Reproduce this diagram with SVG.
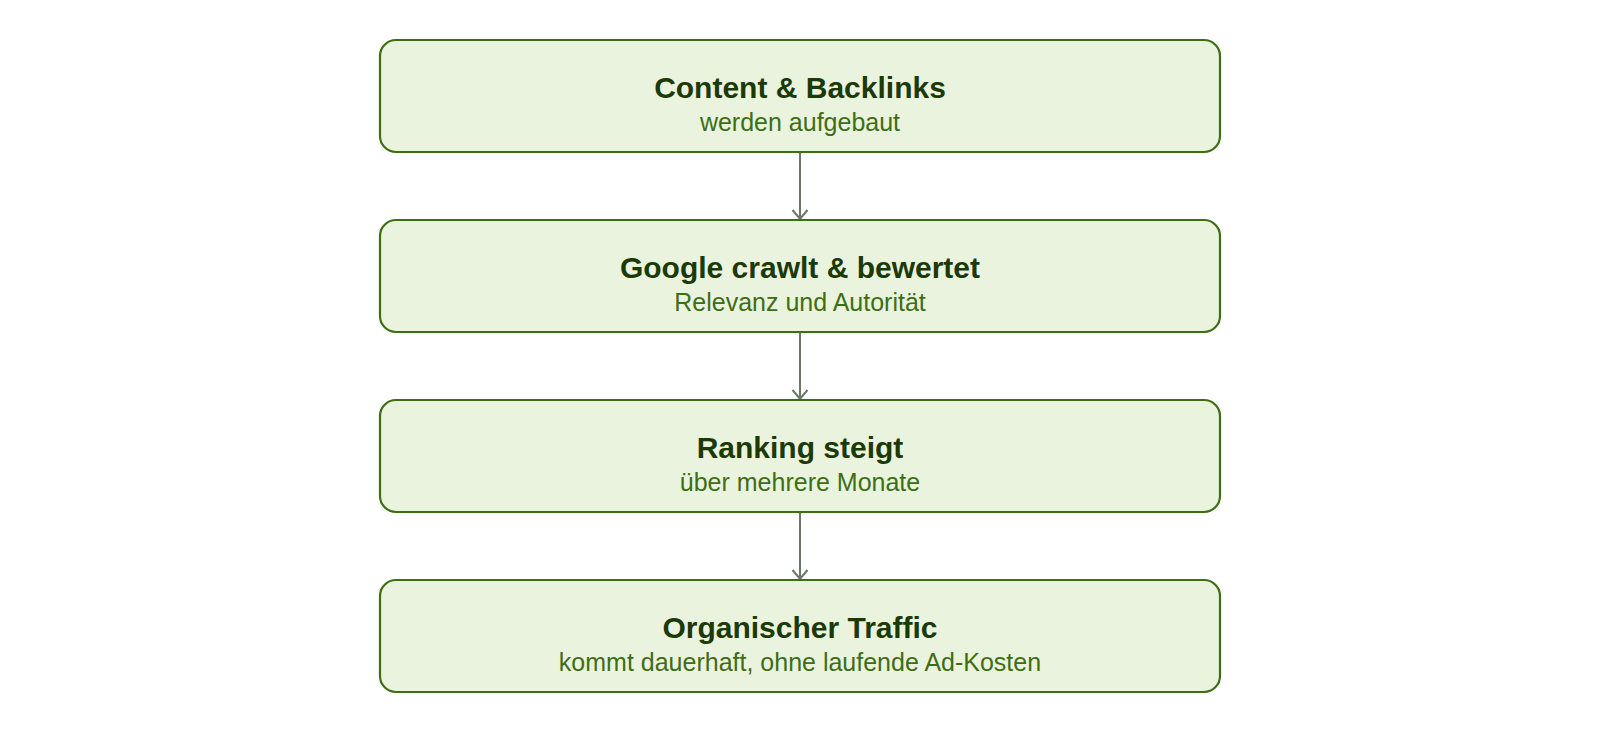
<svg xmlns="http://www.w3.org/2000/svg" width="1600" height="752" viewBox="0 0 1600 752">
<style>
.box{fill:#eaf3dd;stroke:#3e6e14;stroke-width:2.2}
.t{font-family:"Liberation Sans",Arial,sans-serif;font-weight:bold;font-size:30px;fill:#1b3a06;text-anchor:middle}
.s{font-family:"Liberation Sans",Arial,sans-serif;font-size:25px;fill:#3e6e14;text-anchor:middle}
.c{stroke:#6b7866;stroke-width:2;fill:none}
</style>
<defs>
<marker id="ah" markerWidth="14" markerHeight="20" refX="11" refY="9" markerUnits="userSpaceOnUse" orient="auto">
<path d="M2,1.5 L11,9 L2,16.5" fill="none" stroke="#6b7866" stroke-width="2"/>
</marker>
</defs>
<rect width="1600" height="752" fill="#ffffff"/>
<g id="connectors">
<line class="c" x1="800" y1="152" x2="800" y2="219" marker-end="url(#ah)"/>
<line class="c" x1="800" y1="332" x2="800" y2="399" marker-end="url(#ah)"/>
<line class="c" x1="800" y1="512" x2="800" y2="579" marker-end="url(#ah)"/>
</g>
<g id="n1">
<rect class="box" x="380" y="40" width="840" height="112" rx="16"/>
<text class="t" x="800" y="97.5">Content &amp; Backlinks</text>
<text class="s" x="800" y="131">werden aufgebaut</text>
</g>
<g id="n2">
<rect class="box" x="380" y="220" width="840" height="112" rx="16"/>
<text class="t" x="800" y="277.5">Google crawlt &amp; bewertet</text>
<text class="s" x="800" y="311">Relevanz und Autorität</text>
</g>
<g id="n3">
<rect class="box" x="380" y="400" width="840" height="112" rx="16"/>
<text class="t" x="800" y="457.5">Ranking steigt</text>
<text class="s" x="800" y="491">über mehrere Monate</text>
</g>
<g id="n4">
<rect class="box" x="380" y="580" width="840" height="112" rx="16"/>
<text class="t" x="800" y="637.5">Organischer Traffic</text>
<text class="s" x="800" y="671">kommt dauerhaft, ohne laufende Ad-Kosten</text>
</g>
</svg>
